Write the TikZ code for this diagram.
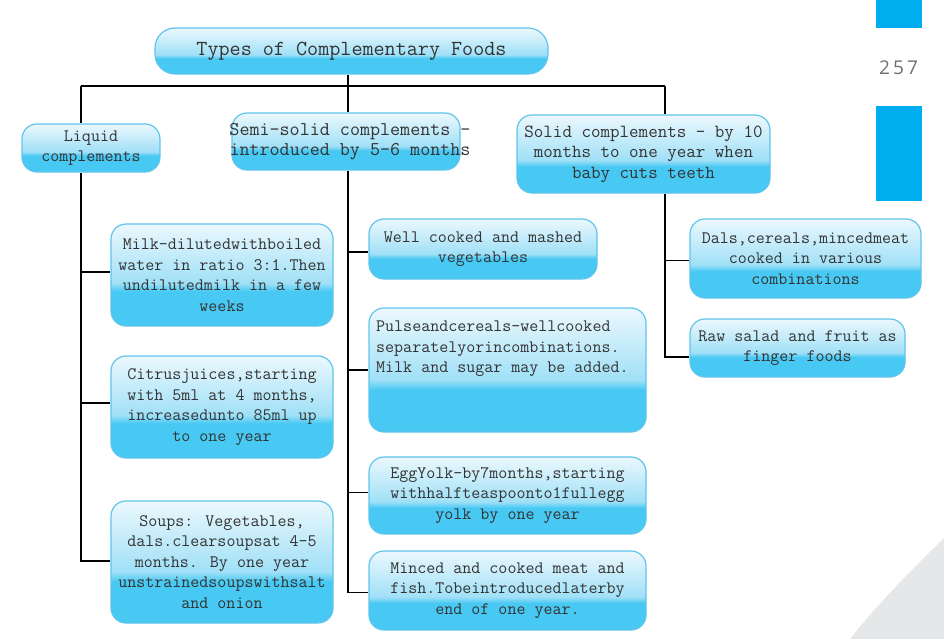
\documentclass[tikz,border=0pt]{standalone}
\usepackage{fontspec}
\newfontfamily\pagenumfont{Open Sans}
\definecolor{boxtop}{RGB}{236,248,253}
\definecolor{boxmid}{RGB}{160,224,247}
\definecolor{boxbot}{RGB}{72,201,243}
\definecolor{boxline}{RGB}{95,196,236}
\definecolor{barblue}{RGB}{0,174,239}
\definecolor{cornergray}{RGB}{230,231,232}
\definecolor{pagegray}{RGB}{110,112,115}
\pgfdeclareverticalshading{boxshade}{100bp}{color(0bp)=(boxbot); color(42bp)=(boxbot); color(46bp)=(boxmid); color(75bp)=(boxtop); color(100bp)=(boxtop)}
\pgfdeclarelayer{background}
\pgfsetlayers{background,main}
\tikzset{
  fbox/.style={draw=boxline, line width=1.2pt, rounded corners=15pt, shading=boxshade,
    text=black!80, font=\ttfamily\fontsize{17.5}{20.5}\selectfont, align=center, inner sep=1pt},
  bigtext/.style={font=\ttfamily\fontsize{18.5}{20.5}\selectfont},
  plaintext/.style={text=black!80, font=\ttfamily\fontsize{17.5}{20.5}\selectfont, align=left, inner sep=0pt},
  conn/.style={line width=1.6pt, black},
}
\begin{document}
\begin{tikzpicture}[x=1pt, y=-1pt]
\useasboundingbox (0,0) rectangle (944,639);

% decorations
\fill[cornergray] (944,538) .. controls (914,568) and (878,603) .. (850,639) -- (944,639) -- cycle;
\fill[barblue] (876,0) rectangle (922,28);
\fill[barblue] (876,106) rectangle (922,201);
\node[text=pagegray, font=\pagenumfont\fontsize{19}{20}\selectfont, inner sep=0pt] (pagenum) at (898.5,67.5) {2\,5\,7};

% nodes
\node[fbox, rounded corners=20pt, font=\ttfamily\fontsize{21.5}{22}\selectfont, minimum width=393pt, minimum height=46pt] (title) at (351.5,51) {Types of Complementary Foods};

\node[fbox, minimum width=138pt, minimum height=48pt] (liquid) at (91,148) {Liquid\\complements};
\node[fbox, minimum width=228pt, minimum height=57pt] (semi) at (346,141.5) {};
\node[plaintext, align=center, font=\ttfamily\fontsize{19.5}{20.5}\selectfont] (semitext) at (350,141.5) {Semi-solid complements -\\introduced by 5-6 months};
\node[fbox, bigtext, minimum width=253pt, minimum height=78pt] (solid) at (643.5,154) {Solid complements - by 10\\months to one year when\\baby cuts teeth};

\node[fbox, minimum width=222pt, minimum height=102pt] (milk) at (222,275) {Milk-dilutedwithboiled\\water in ratio 3:1.Then\\undilutedmilk in a few\\weeks};
\node[fbox, minimum width=222pt, minimum height=102pt] (citrus) at (222,407) {Citrusjuices,starting\\with 5ml at 4 months,\\increasedunto 85ml up\\to one year};
\node[fbox, minimum width=222pt, minimum height=122pt] (soups) at (222,562) {Soups: Vegetables,\\dals.clearsoupsat 4-5\\months. By one year\\unstrainedsoupswithsalt\\and onion};

\node[fbox, minimum width=228pt, minimum height=60pt] (well) at (483,249) {Well cooked and mashed\\vegetables};
\node[fbox, minimum width=277pt, minimum height=124pt] (pulse) at (507.5,370) {};
\node[plaintext, anchor=north west] (pulsetext) at (376,321) {Pulseandcereals-wellcooked\\separatelyorincombinations.\\Milk and sugar may be added.};
\node[fbox, minimum width=277pt, minimum height=77pt] (egg) at (507.5,495.5) {EggYolk-by7months,starting\\withhalfteaspoonto1fullegg\\yolk by one year};
\node[fbox, minimum width=277pt, minimum height=79pt] (minced) at (507.5,590.5) {Minced and cooked meat and\\fish.Tobeintroducedlaterby\\end of one year.};

\node[fbox, minimum width=231pt, minimum height=79pt] (dals) at (805.5,258.5) {Dals,cereals,mincedmeat\\cooked in various\\combinations};
\node[fbox, minimum width=215pt, minimum height=58pt] (raw) at (797.5,348) {Raw salad and fruit as\\finger foods};

% connectors
\coordinate (lft) at (81,86);
\coordinate (hub) at (348,86);
\coordinate (rgt) at (665,86);
\begin{pgfonlayer}{background}
\draw[conn] (lft) -- (rgt);
\draw[conn] (title.south -| hub) -- (hub);
% liquid column
\draw[conn] (lft) -- (liquid.north -| lft);
\draw[conn] (liquid.south -| lft) -- ([yshift=1pt]soups.west -| lft) -- ([yshift=1pt]soups.west);
\draw[conn] ([yshift=3pt]milk.west -| lft) -- ([yshift=3pt]milk.west);
\draw[conn] ([yshift=4pt]citrus.west -| lft) -- ([yshift=4pt]citrus.west);
% semi-solid column
\draw[conn] (hub) -- (semi.north -| hub);
\draw[conn] (semi.south -| hub) -- ([yshift=-2pt]minced.west -| hub) -- ([yshift=-2pt]minced.west);
\draw[conn] ([yshift=-3pt]well.west -| hub) -- ([yshift=-3pt]well.west);
\draw[conn] (pulse.west -| hub) -- (pulse.west);
\draw[conn] ([yshift=3pt]egg.west -| hub) -- ([yshift=3pt]egg.west);
% solid column
\draw[conn] (rgt) -- (solid.north -| rgt);
\draw[conn] (solid.south -| rgt) -- ([yshift=-9pt]raw.west -| rgt) -- ([yshift=-9pt]raw.west);
\draw[conn] ([yshift=-2pt]dals.west -| rgt) -- ([yshift=-2pt]dals.west);
\end{pgfonlayer}
\end{tikzpicture}
\end{document}
